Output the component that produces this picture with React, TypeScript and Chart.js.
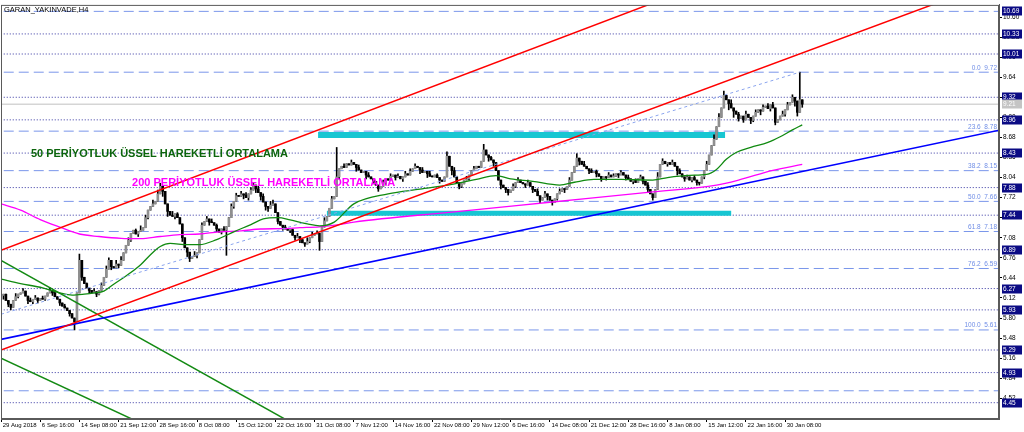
import React, { useEffect, useRef } from "react";
import { Chart, registerables } from "chart.js";

Chart.register(...registerables);

// ---------- DATA ----------
const title = "GARAN_YAKINVADE,H4";

// H4 closes, bar index 0..327 (open = previous close)
const closes: number[] = [
  6.16, 6.18, 6.08, 6.02, 5.97, 6.08, 6.14, 6.18, 6.2, 6.23,
  6.15, 6.08, 6.06, 6.1, 6.12, 6.08, 6.11, 6.1, 6.15, 6.2,
  6.24, 6.2, 6.14, 6.1, 6.04, 5.99, 5.96, 5.92, 5.87, 5.8,
  5.74, 6.2,
  6.72, 6.45, 6.35, 6.28, 6.24, 6.2, 6.22, 6.18, 6.24, 6.32,
  6.45, 6.58, 6.72, 6.62, 6.6, 6.66, 6.64, 6.72, 6.84, 6.96, 7.04,
  7.15, 7.2, 7.14, 7.18, 7.2, 7.24, 7.4, 7.52, 7.58, 7.62,
  7.66, 7.78, 7.9, 7.82, 7.62, 7.5, 7.44, 7.42, 7.46, 7.4,
  7.3, 7.08, 6.92, 6.85, 6.75, 6.78, 6.8, 6.84, 7.05, 7.28,
  7.34, 7.38, 7.33, 7.32, 7.28, 7.22, 7.17, 7.22, 7.2, 7.26,
  7.4, 7.58, 7.66, 7.75, 7.74, 7.78, 7.76, 7.72, 7.78, 7.84,
  7.92, 7.86, 7.8, 7.74, 7.65, 7.58, 7.55, 7.6, 7.62, 7.48,
  7.34, 7.28, 7.25, 7.22, 7.2, 7.21, 7.12, 7.08, 7.1, 7.05,
  7.0, 6.98, 7.02, 7.08, 7.12, 7.14, 7.15, 7.02, 7.25, 7.35,
  7.42, 7.55, 7.7, 7.74, 8.05,
  8.18, 8.22, 8.2, 8.26, 8.24, 8.28, 8.25, 8.2, 8.16, 8.12,
  8.14, 8.08, 8.05, 8.02, 7.98, 7.92, 7.86, 7.9, 7.96, 8.02,
  8.0, 8.06, 8.08, 8.04, 8.06, 8.02, 8.05, 8.1, 8.08, 8.14,
  8.18, 8.22, 8.2, 8.16, 8.12, 8.14, 8.1, 8.06, 8.05, 8.08,
  8.04, 8.0, 7.98, 8.05, 8.38, 8.22, 8.15, 8.05, 7.96, 7.9,
  7.94, 8.0, 8.02, 8.08, 8.15, 8.18, 8.22, 8.2, 8.3, 8.48,
  8.4, 8.36, 8.32, 8.28, 8.15, 8.0, 7.92, 7.88, 7.85, 7.8,
  7.84, 7.9, 7.96, 8.0, 7.96, 7.94, 7.92, 7.96, 7.9, 7.85,
  7.82, 7.75, 7.68, 7.72, 7.78, 7.74, 7.68, 7.64, 7.7, 7.78,
  7.82, 7.86, 7.85, 7.9, 8.0, 8.12, 8.22, 8.35, 8.3, 8.25,
  8.22, 8.18, 8.15, 8.12, 8.14, 8.1, 8.06, 8.02, 8.05, 8.04,
  8.08, 8.05, 8.06, 8.1, 8.08, 8.12, 8.08, 8.04, 8.02, 7.98,
  8.0, 7.96, 8.02, 8.05, 7.98, 7.92, 7.85, 7.78, 7.72, 7.85,
  8.05, 8.25, 8.3, 8.26, 8.28, 8.25, 8.28, 8.22, 8.15, 8.1,
  8.05, 8.02, 8.05, 8.0, 8.04, 8.0, 7.96, 7.95, 8.05, 8.15,
  8.25, 8.4, 8.55, 8.65, 8.85, 9.0, 9.15, 9.35, 9.28, 9.22,
  9.15, 9.1, 9.05, 8.98, 9.02, 8.96, 9.05, 9.0, 8.95, 9.02,
  9.08, 9.12, 9.1, 9.16, 9.18, 9.14, 9.2, 9.15, 8.92, 8.96,
  9.02, 9.05, 9.12, 9.2, 9.24, 9.32, 9.26, 9.08, 9.28, 9.21,
];

// wick extremes [bar, price]
const wickHighs: [number, number][] = [
  [2, 6.14], [6, 6.19], [9, 6.27], [12, 6.12], [14, 6.16], [17, 6.15], [20, 6.28], [22, 6.22],
  [26, 6.02], [32, 6.82], [35, 6.36], [38, 6.27], [41, 6.36], [43, 6.63], [44, 6.76], [47, 6.72],
  [49, 6.78], [52, 7.08], [55, 7.22], [57, 7.27], [59, 7.44], [62, 7.68], [64, 7.84], [65, 7.95],
  [67, 7.76], [70, 7.5], [72, 7.48], [75, 7.02], [79, 6.86], [82, 7.32], [84, 7.42], [86, 7.38],
  [88, 7.3], [91, 7.26], [94, 7.62], [96, 7.79], [98, 7.82], [100, 7.8], [102, 7.88], [103, 7.96],
  [105, 7.9], [107, 7.78], [110, 7.66], [111, 7.68], [113, 7.46], [116, 7.28], [119, 7.22],
  [121, 7.15], [125, 7.08], [127, 7.17], [129, 7.19], [132, 7.4], [135, 7.74], [137, 8.52],
  [140, 8.26], [143, 8.32], [146, 8.24], [150, 8.12], [156, 8.0], [159, 8.1], [162, 8.1],
  [165, 8.14], [167, 8.18], [169, 8.26], [172, 8.2], [175, 8.14], [178, 8.1], [182, 8.45],
  [185, 8.2], [190, 8.06], [193, 8.22], [197, 8.57], [200, 8.38], [203, 8.12], [209, 7.94],
  [211, 8.04], [215, 8.0], [219, 7.86], [222, 7.82], [228, 7.86], [232, 8.04], [235, 8.42],
  [238, 8.3], [241, 8.18], [243, 8.16], [248, 8.12], [250, 8.1], [253, 8.15], [256, 8.08],
  [259, 8.02], [261, 8.08], [264, 7.96], [268, 8.12], [270, 8.34], [274, 8.32], [277, 8.18],
  [280, 8.08], [283, 8.07], [288, 8.3], [291, 8.72], [293, 9.06], [295, 9.42], [298, 9.28],
  [301, 9.08], [304, 9.1], [308, 9.12], [311, 9.2], [313, 9.22], [315, 9.24], [319, 9.1],
  [321, 9.24], [323, 9.36], [326, 9.72],
];
const wickLows: [number, number][] = [
  [1, 6.1], [3, 5.98], [4, 5.93], [7, 6.12], [11, 6.03], [13, 6.03], [15, 6.04], [18, 6.08],
  [21, 6.16], [24, 6.0], [28, 5.83], [30, 5.61], [33, 6.4], [36, 6.2], [39, 6.14], [40, 6.17],
  [45, 6.57], [48, 6.6], [53, 7.02], [56, 7.1], [60, 7.38], [66, 7.74], [68, 7.42], [71, 7.38],
  [74, 7.02], [76, 6.78], [77, 6.7], [80, 6.76], [85, 7.28], [88, 7.18], [90, 7.14], [92, 6.8],
  [95, 7.55], [99, 7.7], [101, 7.68], [104, 7.8], [106, 7.68], [108, 7.52], [109, 7.5],
  [113, 7.3], [115, 7.2], [118, 7.16], [120, 7.04], [122, 7.0], [124, 6.94], [126, 7.0],
  [130, 6.88], [133, 7.35], [138, 8.02], [145, 8.14], [149, 8.02], [152, 7.94], [154, 7.82],
  [157, 7.93], [161, 8.0], [164, 7.98], [171, 8.1], [174, 8.04], [179, 7.95], [184, 8.08],
  [187, 7.86], [188, 7.88], [191, 8.0], [199, 8.3], [201, 8.22], [204, 7.86], [206, 7.8],
  [207, 7.76], [210, 7.88], [214, 7.88], [217, 7.8], [220, 7.64], [223, 7.68], [225, 7.6],
  [227, 7.68], [230, 7.8], [236, 8.24], [240, 8.1], [243, 8.05], [245, 7.98], [247, 8.0],
  [252, 8.04], [255, 8.0], [258, 7.94], [262, 7.94], [264, 7.8], [266, 7.68], [267, 7.72],
  [272, 8.22], [276, 8.08], [279, 7.98], [282, 7.97], [284, 7.92], [285, 7.92], [287, 8.02],
  [297, 9.12], [299, 9.0], [301, 8.94], [303, 8.92], [306, 8.9], [307, 8.93], [310, 9.04],
  [314, 9.1], [316, 8.88], [318, 8.98], [320, 9.02], [324, 9.18], [325, 9.02], [327, 9.16],
];

// moving averages [bar, price]
const ema50: [number, number][] = [
  [0, 6.42], [8, 6.35], [17, 6.28], [24, 6.2], [29, 6.165], [34, 6.18], [38, 6.2], [42, 6.23],
  [46, 6.34], [51, 6.47], [57, 6.65], [61, 6.81], [65, 6.94], [69, 6.99], [76, 6.97], [81, 6.97],
  [88, 7.05], [95, 7.175], [102, 7.29], [107, 7.38], [113, 7.4], [118, 7.365], [125, 7.3],
  [130, 7.27], [136, 7.33], [144, 7.62], [158, 7.78], [171, 7.855], [184, 7.93], [194, 8.01],
  [202, 8.07], [208, 8.02], [217, 7.98], [228, 7.92], [234, 7.965], [242, 8.01], [253, 8.01],
  [266, 8.0], [272, 8.04], [281, 8.075], [288, 8.09], [292, 8.17], [296, 8.33], [300, 8.44],
  [306, 8.52], [313, 8.6], [318, 8.69], [323, 8.8], [327, 8.88],
];
const ema200: [number, number][] = [
  [0, 7.62], [8, 7.52], [16, 7.37], [24, 7.25], [32, 7.14], [40, 7.1], [49, 7.07], [57, 7.065],
  [65, 7.1], [73, 7.13], [81, 7.14], [89, 7.175], [98, 7.19], [106, 7.22], [114, 7.225],
  [122, 7.24], [130, 7.255], [138, 7.29], [144, 7.33], [184, 7.49], [225, 7.65], [266, 7.81],
  [292, 7.92], [301, 8.0], [315, 8.155], [327, 8.25],
];

// drawn objects [bar, price]
const redUpper: [number, number][] = [[0, 6.88], [280, 11.03]];
const redLower: [number, number][] = [[0, 5.29], [408, 11.2]];
const blueTrend: [number, number][] = [[0, 5.46], [408, 8.8]];
const greenUpper: [number, number][] = [[0, 6.72], [130, 3.88]];
const greenLower: [number, number][] = [[0, 5.16], [60, 4.07]];
const fibTrend: [number, number][] = [[0, 5.86], [326, 9.72]];
const cyanUpper: [number, number][] = [[129.4, 8.72], [295.5, 8.72]];
const cyanLower: [number, number][] = [[133, 7.47], [298, 7.47]];

const supportLevels = [10.33, 10.01, 9.32, 8.96, 8.43, 7.88, 7.44, 6.89, 6.27, 5.93, 5.29, 4.93, 4.45];
const fibLevels = [10.69, 9.72, 8.78, 8.15, 7.66, 7.18, 6.59, 5.61, 4.64];
const fibNames = ["", "0.0", "23.6", "38.2", "50.0", "61.8", "76.2", "100.0", ""];
const boxLevels = [10.69, 10.33, 10.01, 9.32, 8.96, 8.43, 7.88, 7.44, 6.89, 6.27, 5.93, 5.29, 4.93, 4.45];
const currentPrice = 9.21;

const yTicks = [4.52, 4.84, 5.16, 5.48, 5.8, 6.12, 6.44, 6.76, 7.08, 7.4, 7.72, 8.04, 8.36, 8.68, 9.0, 9.32, 9.64, 9.96, 10.28, 10.6];
const xTickBars = [0, 16, 32, 48, 64, 80, 96, 112, 128, 144, 160, 176, 192, 208, 224, 240, 256, 272, 288, 304, 320];
const xTickLabels = [
  "29 Aug 2018", "6 Sep 16:00", "14 Sep 08:00", "21 Sep 12:00", "28 Sep 16:00", "8 Oct 08:00",
  "15 Oct 12:00", "22 Oct 16:00", "31 Oct 08:00", "7 Nov 12:00", "14 Nov 16:00", "22 Nov 08:00",
  "29 Nov 12:00", "6 Dec 16:00", "14 Dec 08:00", "21 Dec 12:00", "28 Dec 16:00", "8 Jan 08:00",
  "15 Jan 12:00", "22 Jan 16:00", "30 Jan 08:00",
];

const textNotes = [
  { text: "50 PERİYOTLUK ÜSSEL HAREKETLİ ORTALAMA", bar: 12.2, price: 8.41, color: "#0c650c" },
  { text: "200 PERİYOTLUK ÜSSEL HAREKETLİ ORTALAMA", bar: 53.5, price: 7.95, color: "#ff00ff" },
];

// ---------- CHART ----------
const FONT = '"Liberation Sans", Arial, sans-serif';

const pts = (a: [number, number][]) => a.map(([x, y]) => ({ x, y }));
const hline = (v: number) => [{ x: -5, y: v }, { x: 420, y: v }];

const overlayPlugin = {
  id: "overlay",
  afterDatasetsDraw(chart: any) {
    const { ctx, chartArea: a, scales } = chart;
    const x = scales.x;
    const y = scales.y;
    ctx.save();
    ctx.font = `6.5px ${FONT}`;
    ctx.fillStyle = "#6f8de6";
    ctx.textAlign = "right";
    ctx.textBaseline = "bottom";
    fibLevels.forEach((v, i) => {
      if (!fibNames[i]) return;
      ctx.fillText(`${fibNames[i]}  ${v.toFixed(2)}`, a.right - 2, y.getPixelForValue(v) - 1);
    });
    ctx.font = `bold 11px ${FONT}`;
    ctx.textAlign = "left";
    ctx.textBaseline = "middle";
    textNotes.forEach((t) => {
      ctx.fillStyle = t.color;
      ctx.fillText(t.text, x.getPixelForValue(t.bar), y.getPixelForValue(t.price));
    });
    ctx.font = `7.5px ${FONT}`;
    ctx.fillStyle = "#000";
    ctx.fillText(title, a.left + 3, a.top + 5);
    ctx.strokeStyle = "#5a5a5a";
    ctx.lineWidth = 1;
    ctx.strokeRect(a.left + 0.5, a.top + 0.5, a.right - a.left - 1, a.bottom - a.top - 1);
    ctx.restore();
  },
  afterDraw(chart: any) {
    const { ctx, chartArea: a, scales } = chart;
    const y = scales.y;
    ctx.save();
    ctx.font = `6.5px ${FONT}`;
    ctx.textAlign = "left";
    ctx.textBaseline = "middle";
    const box = (v: number, bg: string) => {
      const py = Math.round(y.getPixelForValue(v));
      ctx.fillStyle = bg;
      ctx.fillRect(a.right + 3, py - 4.5, 20, 9);
      ctx.fillStyle = "#ffffff";
      ctx.fillText(v.toFixed(2), a.right + 4, py + 0.5);
    };
    boxLevels.forEach((v) => box(v, "#0b0b84"));
    box(currentPrice, "#c4c4c4");
    ctx.restore();
  },
};

export default function App() {
  const ref = useRef<HTMLCanvasElement | null>(null);

  useEffect(() => {
    if (!ref.current) return;
    document.body.style.margin = "0";

    const opens = closes.map((c, i) => (i === 0 ? c : closes[i - 1]));
    const hiMap = new Map(wickHighs);
    const loMap = new Map(wickLows);
    const bodies = closes.map((c, i) => ({ x: i, y: [opens[i], c] }));
    const bodyColors = closes.map((c, i) => (c >= opens[i] ? "#8f8f8f" : "#000000"));
    const wicks = closes.map((c, i) => {
      const hi = Math.max(c, opens[i], hiMap.get(i) ?? -Infinity);
      const lo = Math.min(c, opens[i], loMap.get(i) ?? Infinity);
      return { x: i, y: [lo, hi] };
    });

    const lineBase = { type: "line" as const, pointRadius: 0, fill: false, tension: 0 };
    const datasets: any[] = [];

    supportLevels.forEach((v) =>
      datasets.push({ ...lineBase, data: hline(v), borderColor: "#3232a0", borderWidth: 1, borderDash: [1, 2], order: 20 })
    );
    fibLevels.forEach((v) =>
      datasets.push({ ...lineBase, data: hline(v), borderColor: "#7a96ea", borderWidth: 1, borderDash: [10, 5], order: 20 })
    );
    datasets.push({ ...lineBase, data: hline(currentPrice), borderColor: "#c0c0c0", borderWidth: 1, order: 20 });

    datasets.push({ ...lineBase, data: pts(cyanUpper), borderColor: "#17c6d2", borderWidth: 6, borderCapStyle: "butt", order: 15 });
    datasets.push({ ...lineBase, data: pts(cyanLower), borderColor: "#17c6d2", borderWidth: 5, borderCapStyle: "butt", order: 15 });

    datasets.push({
      type: "bar", data: wicks, backgroundColor: "#000000", barThickness: 1, grouped: false, minBarLength: 1, order: 12,
    });
    datasets.push({
      type: "bar", data: bodies, backgroundColor: bodyColors, barThickness: 2, grouped: false, minBarLength: 1, order: 11,
    });

    datasets.push({ ...lineBase, data: pts(ema200), borderColor: "#ff00ff", borderWidth: 1.3, cubicInterpolationMode: "monotone", order: 6 });
    datasets.push({ ...lineBase, data: pts(ema50), borderColor: "#108a10", borderWidth: 1.3, cubicInterpolationMode: "monotone", order: 5 });

    datasets.push({ ...lineBase, data: pts(fibTrend), borderColor: "#8aa4ee", borderWidth: 1, borderDash: [3, 3], order: 4 });
    datasets.push({ ...lineBase, data: pts(greenUpper), borderColor: "#138a13", borderWidth: 1.5, order: 3 });
    datasets.push({ ...lineBase, data: pts(greenLower), borderColor: "#138a13", borderWidth: 1.5, order: 3 });
    datasets.push({ ...lineBase, data: pts(blueTrend), borderColor: "#0000ff", borderWidth: 1.6, order: 2 });
    datasets.push({ ...lineBase, data: pts(redUpper), borderColor: "#ff0000", borderWidth: 1.5, order: 1 });
    datasets.push({ ...lineBase, data: pts(redLower), borderColor: "#ff0000", borderWidth: 1.5, order: 1 });

    const chart = new Chart(ref.current, {
      type: "bar",
      data: { datasets },
      plugins: [overlayPlugin],
      options: {
        animation: false,
        responsive: false,
        devicePixelRatio: 1,
        layout: { padding: { top: 1, left: 1, right: 0, bottom: 0 } },
        plugins: { legend: { display: false }, tooltip: { enabled: false } },
        scales: {
          x: {
            type: "linear",
            min: 0,
            max: 407.3,
            offset: false,
            afterBuildTicks: (s: any) => {
              s.ticks = xTickBars.map((v) => ({ value: v }));
            },
            afterFit: (s: any) => {
              s.height = 13;
            },
            grid: { drawOnChartArea: false, drawTicks: true, tickLength: 3, color: "#000", offset: false },
            border: { display: true, color: "#5a5a5a" },
            ticks: {
              align: "start",
              maxRotation: 0,
              autoSkip: false,
              padding: 0,
              color: "#000",
              font: { family: FONT, size: 6 },
              callback: (_v: any, i: number) => " " + (xTickLabels[i] ?? ""),
            },
          },
          y: {
            type: "linear",
            position: "right",
            min: 4.19,
            max: 10.793,
            beginAtZero: false,
            afterBuildTicks: (s: any) => {
              s.ticks = yTicks.map((v) => ({ value: v }));
            },
            afterFit: (s: any) => {
              s.width = 25;
            },
            grid: { drawOnChartArea: false, drawTicks: true, tickLength: 3, color: "#000" },
            border: { display: true, color: "#5a5a5a" },
            ticks: {
              autoSkip: false,
              padding: 1,
              color: "#000",
              font: { family: FONT, size: 6.5 },
              callback: (v: any) => Number(v).toFixed(2),
            },
          },
        },
      } as any,
    });
    return () => chart.destroy();
  }, []);

  return (
    <div style={{ position: "fixed", left: 0, top: 0, width: 1024, height: 432, background: "#fff" }}>
      <canvas ref={ref} width={1024} height={432} style={{ width: 1024, height: 432, display: "block" }} />
    </div>
  );
}
